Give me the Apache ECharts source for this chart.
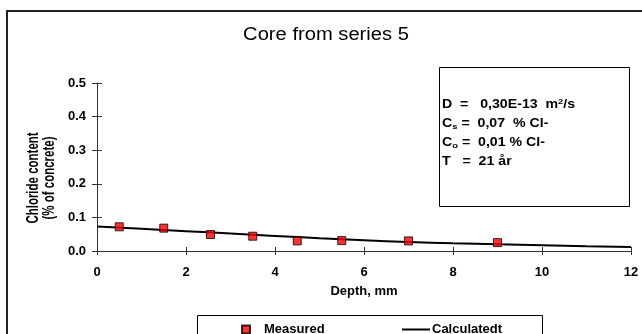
<!DOCTYPE html>
<html>
<head>
<meta charset="utf-8">
<script src="https://cdn.jsdelivr.net/npm/echarts@6/dist/echarts.min.js"></script>
<style>
  html, body { margin: 0; padding: 0; background: #fff; }
  #chart { width: 642px; height: 334px; }
</style>
</head>
<body>
<div id="chart"></div>
<script>
// Measured chloride profile (depth in mm, content in % of concrete)
const measuredDepth = [0.5, 1.5, 2.55, 3.5, 4.5, 5.5, 7, 9];
const measuredValue = [0.072, 0.068, 0.049, 0.044, 0.030, 0.031, 0.030, 0.025];

// Calculated profile
const calcDepth = [0, 1, 2, 3, 4, 5, 6, 7, 8, 9, 10, 11, 12];
const calcValue = [0.073, 0.066, 0.059, 0.052, 0.045, 0.038, 0.032, 0.027, 0.023, 0.020, 0.017, 0.014, 0.012];

const xTicks = [0, 2, 4, 6, 8, 10, 12];
const yTicks = [0.0, 0.1, 0.2, 0.3, 0.4, 0.5];

const FONT = "Arial, 'Liberation Sans', sans-serif";
const AXIS_COLOR = '#333';
const WIDE = 1.18;   // horizontal stretch of the lettering

const chart = echarts.init(document.getElementById('chart'), null, { renderer: 'canvas' });

const measuredPairs = measuredDepth.map((d, i) => [d, measuredValue[i]]);
const calcPairs = calcDepth.map((d, i) => [d, calcValue[i]]);

const baseX = {
  type: 'value', min: xTicks[0], max: xTicks[xTicks.length - 1], interval: 2,
  splitLine: { show: false }
};
const baseY = {
  type: 'value', min: yTicks[0], max: yTicks[yTicks.length - 1], interval: 0.1,
  splitLine: { show: false }
};

function boxLine(y, text, rich) {
  return {
    type: 'text', silent: true, x: 442, y: y, scaleX: WIDE,
    style: { text: text, verticalAlign: 'middle', rich: rich }
  };
}
const richBase = {
  a: { fontFamily: FONT, fontSize: 12, fontWeight: 'bold', fill: '#000', lineHeight: 14 },
  sup: { fontFamily: FONT, fontSize: 8, fontWeight: 'bold', fill: '#000', verticalAlign: 'top', lineHeight: 8 },
  sub: { fontFamily: FONT, fontSize: 8, fontWeight: 'bold', fill: '#000', verticalAlign: 'bottom', lineHeight: 8 }
};

chart.setOption({
  animation: false,
  backgroundColor: '#fff',
  grid: { left: 97, right: 11, top: 83, bottom: 83 },
  xAxis: [
    Object.assign({}, baseX, {
      position: 'bottom',
      axisLine: { onZero: false, lineStyle: { color: AXIS_COLOR, width: 1 } },
      axisTick: { inside: false, length: 4, lineStyle: { color: AXIS_COLOR } },
      axisLabel: {
        margin: 15, fontFamily: FONT, fontSize: 13, fontWeight: 'bold', color: '#000',
        formatter: v => String(v)
      },
      name: 'Depth, mm', nameLocation: 'middle', nameGap: 34,
      nameTextStyle: { fontFamily: FONT, fontSize: 13, fontWeight: 'bold', color: '#000' }
    }),
    Object.assign({}, baseX, {
      position: 'bottom',
      axisLine: { show: false, onZero: false },
      axisTick: { inside: true, length: 4, lineStyle: { color: AXIS_COLOR } },
      axisLabel: { show: false }
    })
  ],
  yAxis: [
    Object.assign({}, baseY, {
      position: 'left',
      axisLine: { show: true, onZero: false, lineStyle: { color: AXIS_COLOR, width: 1 } },
      axisTick: { show: true, inside: false, length: 5, lineStyle: { color: AXIS_COLOR } },
      axisLabel: {
        margin: 11, fontFamily: FONT, fontSize: 13, fontWeight: 'bold', color: '#000',
        formatter: v => v.toFixed(1)
      }
    }),
    Object.assign({}, baseY, {
      position: 'left',
      axisLine: { show: false, onZero: false },
      axisTick: { show: true, inside: true, length: 5, lineStyle: { color: AXIS_COLOR } },
      axisLabel: { show: false }
    })
  ],
  legend: [
    {
      data: ['Measured'],
      left: 236, top: 318,
      itemWidth: 8, itemHeight: 8,
      icon: 'rect',
      textStyle: { fontFamily: FONT, fontSize: 13, fontWeight: 'bold', color: '#000', padding: [0, 0, 0, 9] }
    },
    {
      data: [{ name: 'Calculatedt', icon: 'rect' }],
      left: 397, top: 318,
      itemWidth: 28, itemHeight: 2,
      textStyle: { fontFamily: FONT, fontSize: 13, fontWeight: 'bold', color: '#000', padding: [0, 0, 0, -3] }
    }
  ],
  graphic: [
    // chart area frame
    { type: 'rect', silent: true, z: -1,
      shape: { x: 7, y: 11, width: 700, height: 400 },
      style: { fill: 'none', stroke: '#222', lineWidth: 2 } },
    // title
    { type: 'text', silent: true, x: 326, y: 35, scaleX: 1.12,
      style: { text: 'Core from series 5', align: 'center', verticalAlign: 'middle',
               font: '18px ' + FONT, fill: '#000' } },
    // legend frame
    { type: 'rect', silent: true,
      shape: { x: 197.5, y: 315.5, width: 345, height: 40 },
      style: { fill: '#fff', stroke: '#000', lineWidth: 1 }, z: -1 },
    // parameter box
    { type: 'rect', silent: true,
      shape: { x: 439.5, y: 67.5, width: 190, height: 139 },
      style: { fill: '#fff', stroke: '#000', lineWidth: 1 } },
    boxLine(105, '{a|D  =   0,30E-13  m}{sup|2}{a|/s}', richBase),
    boxLine(124, '{a|C}{sub|s}{a| =  0,07  % Cl-}', richBase),
    boxLine(143, '{a|C}{sub|o}{a| =  0,01 % Cl-}', richBase),
    boxLine(162, '{a|T   =  21 år}', richBase),
    // y-axis title, two rotated lines
    { type: 'text', silent: true, x: 33.5, y: 178, rotation: Math.PI / 2, scaleX: 0.82, scaleY: 1.15,
      style: { text: 'Chloride content', align: 'center', verticalAlign: 'middle',
               font: 'bold 14px ' + FONT, fill: '#000' } },
    { type: 'text', silent: true, x: 49.5, y: 178, rotation: Math.PI / 2, scaleX: 0.82, scaleY: 1.15,
      style: { text: '(% of concrete)', align: 'center', verticalAlign: 'middle',
               font: 'bold 14px ' + FONT, fill: '#000' } }
  ],
  series: [
    {
      name: 'Calculatedt', type: 'line', data: calcPairs,
      xAxisIndex: 0, yAxisIndex: 0,
      smooth: true, symbol: 'none', showSymbol: false,
      lineStyle: { color: '#000', width: 2 },
      itemStyle: { color: '#000' },
      z: 2
    },
    {
      name: 'Measured', type: 'scatter', data: measuredPairs,
      xAxisIndex: 0, yAxisIndex: 0,
      symbol: 'rect', symbolSize: 8,
      itemStyle: { color: '#ff0000', borderColor: '#000', borderWidth: 1 },
      z: 3
    }
  ]
});
</script>
</body>
</html>
